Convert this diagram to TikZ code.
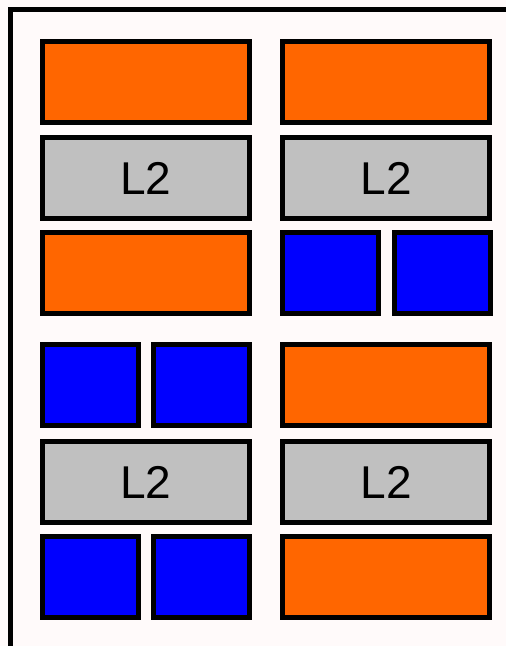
\documentclass[tikz,border=0pt]{standalone}
\usepackage{fontspec}
\setmainfont{Liberation Sans}
\definecolor{bgsnow}{RGB}{255,250,250}
\definecolor{orng}{RGB}{255,102,0}
\definecolor{lgray}{RGB}{192,192,192}
\definecolor{pblue}{RGB}{0,0,255}
\tikzset{
  blk/.style={draw=black, line width=5pt, inner sep=0pt, minimum height=81pt},
  wide/.style={blk, minimum width=207pt},
  half/.style={blk, minimum width=96pt, fill=pblue},
  orng box/.style={wide, fill=orng},
  cache/.style={wide, fill=lgray, font=\fontsize{46}{50}\selectfont}
}
\begin{document}
\begin{tikzpicture}[x=1pt,y=-1pt]
\useasboundingbox (0,0) rectangle (506,646);
\fill[bgsnow] (0,0) rectangle (506,646);
\clip (0,0) rectangle (506,646);
\draw[line width=5pt] (10.5,9.5) rectangle (530,670);
% left column
\node[orng box] (la) at (146,81.5) {};
\node[cache] (lb) at (146,178.3) {L2};
\node[orng box] (lc) at (146,273.2) {};
\node[half] (ld1) at (90.4,385.2) {};
\node[half] (ld2) at (201.9,385.2) {};
\node[cache] (le) at (146,482.2) {L2};
\node[half] (lf1) at (90.4,577.2) {};
\node[half] (lf2) at (201.9,577.2) {};
% right column
\node[orng box] (ra) at (386.3,81.5) {};
\node[cache] (rb) at (386.3,178.3) {L2};
\node[half] (rc1) at (330,273.2) {};
\node[half] (rc2) at (442.4,273.2) {};
\node[orng box] (rd) at (386.3,385.2) {};
\node[cache] (re) at (386.3,482.2) {L2};
\node[orng box] (rf) at (386.3,577.2) {};
\end{tikzpicture}
\end{document}
